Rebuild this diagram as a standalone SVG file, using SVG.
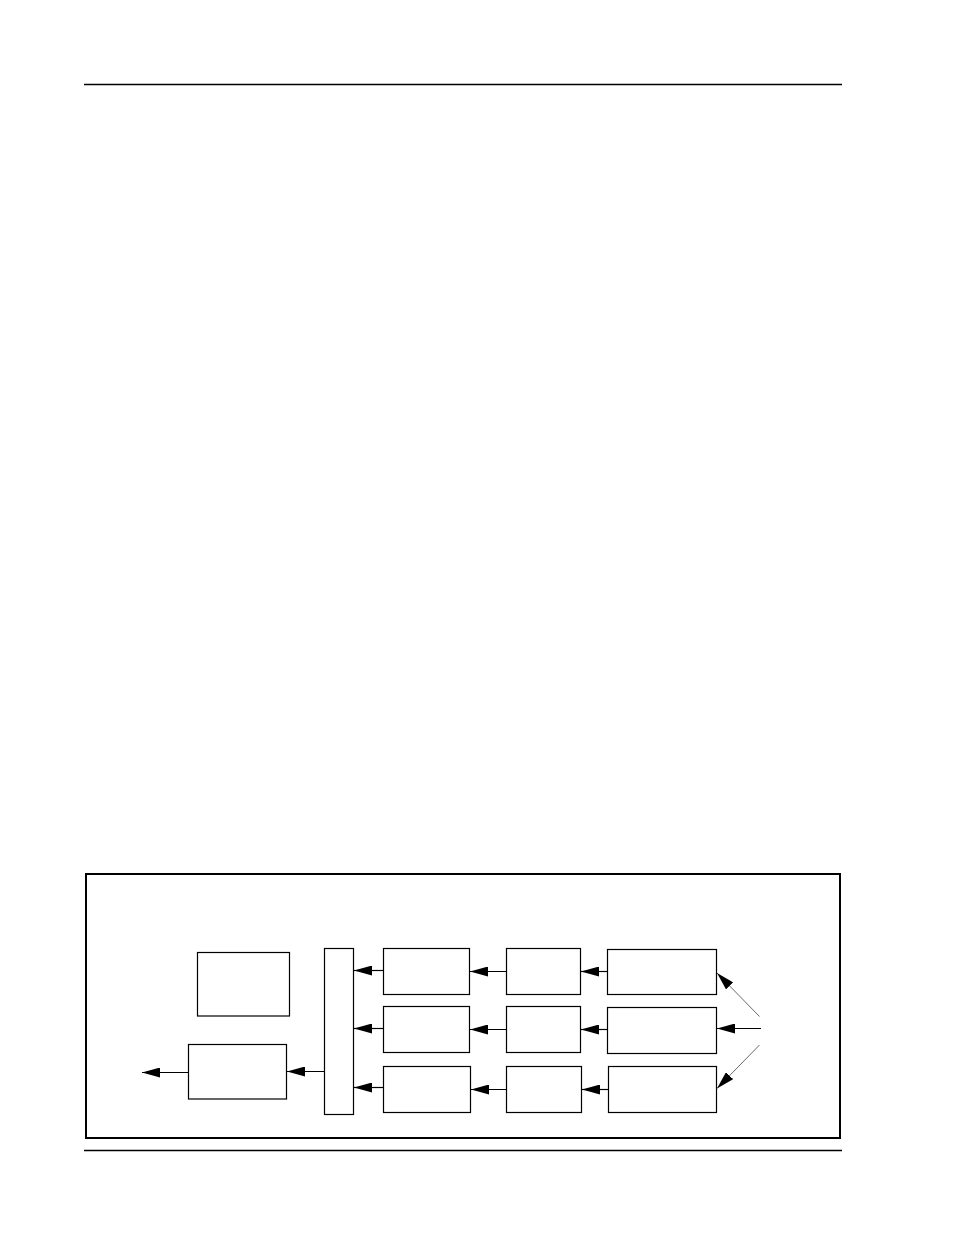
<svg xmlns="http://www.w3.org/2000/svg" width="954" height="1235" viewBox="0 0 954 1235">
<style>
.box{fill:#fff;stroke:#000;stroke-width:1.2}
.ln{stroke:#000;stroke-width:1.2;fill:none}
.thin{stroke:#444;stroke-width:0.8;fill:none}
.rule{stroke:#000;stroke-width:1.3}
</style>
<defs>
<marker id="ah" markerUnits="userSpaceOnUse" markerWidth="18" markerHeight="10" refX="18" refY="5" orient="auto" viewBox="0 0 18 10">
<path d="M0,0 L18,5 L0,10 z" fill="#000"/>
</marker>
</defs>
<rect width="954" height="1235" fill="#fff"/>
<line class="rule" x1="84" y1="84.5" x2="842" y2="84.5"/>
<line class="rule" x1="84" y1="1150.5" x2="842" y2="1150.5"/>
<rect id="frame" x="86" y="874" width="754" height="264" fill="none" stroke="#000" stroke-width="2"/>
<g id="n-a"><rect class="box" x="197.5" y="952.5" width="92" height="63.5"/></g>
<g id="n-b"><rect class="box" x="188.5" y="1044.5" width="98" height="54.5"/></g>
<g id="n-bar"><rect class="box" x="324.5" y="948.5" width="29" height="166"/></g>
<g id="n-c1r1"><rect class="box" x="383.5" y="948.5" width="86" height="46"/></g>
<g id="n-c1r2"><rect class="box" x="383.5" y="1006.5" width="86" height="46"/></g>
<g id="n-c1r3"><rect class="box" x="383.5" y="1066.5" width="87" height="46"/></g>
<g id="n-c2r1"><rect class="box" x="506.5" y="948.5" width="74" height="46"/></g>
<g id="n-c2r2"><rect class="box" x="506.5" y="1006.5" width="74" height="46"/></g>
<g id="n-c2r3"><rect class="box" x="506.5" y="1066.5" width="75" height="46"/></g>
<g id="n-c3r1"><rect class="box" x="607.5" y="949.5" width="109" height="45"/></g>
<g id="n-c3r2"><rect class="box" x="607.5" y="1007.5" width="109" height="46"/></g>
<g id="n-c3r3"><rect class="box" x="608.5" y="1066.5" width="108" height="46"/></g>
<g id="connectors">
<line class="ln" x1="383.5" y1="970.5" x2="354" y2="970.5" marker-end="url(#ah)"/>
<line class="ln" x1="383.5" y1="1028.5" x2="354" y2="1028.5" marker-end="url(#ah)"/>
<line class="ln" x1="383.5" y1="1087.5" x2="354" y2="1087.5" marker-end="url(#ah)"/>
<line class="ln" x1="506.5" y1="971.5" x2="470" y2="971.5" marker-end="url(#ah)"/>
<line class="ln" x1="506.5" y1="1029.5" x2="470" y2="1029.5" marker-end="url(#ah)"/>
<line class="ln" x1="506.5" y1="1089.5" x2="471" y2="1089.5" marker-end="url(#ah)"/>
<line class="ln" x1="607.5" y1="971.5" x2="581" y2="971.5" marker-end="url(#ah)"/>
<line class="ln" x1="607.5" y1="1029.5" x2="581" y2="1029.5" marker-end="url(#ah)"/>
<line class="ln" x1="608.5" y1="1089.5" x2="582" y2="1089.5" marker-end="url(#ah)"/>
<line class="ln" x1="324.5" y1="1071.5" x2="287" y2="1071.5" marker-end="url(#ah)"/>
<line class="ln" x1="188.5" y1="1072.5" x2="142" y2="1072.5" marker-end="url(#ah)"/>
<line class="ln" x1="761" y1="1028.5" x2="717" y2="1028.5" marker-end="url(#ah)"/>
<line class="thin" x1="759.5" y1="1016.5" x2="717" y2="973" marker-end="url(#ah)"/>
<line class="thin" x1="759.5" y1="1045" x2="717" y2="1088.5" marker-end="url(#ah)"/>
</g>
</svg>
